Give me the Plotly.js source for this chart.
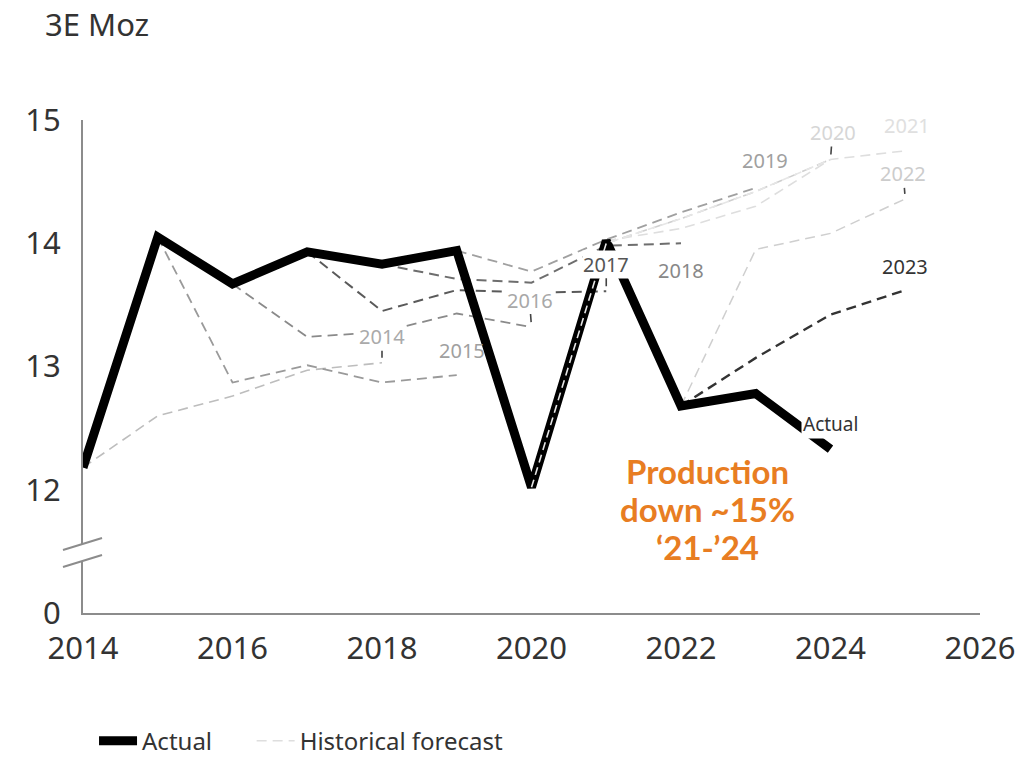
<!DOCTYPE html>
<html>
<head>
<meta charset="utf-8">
<script src="https://cdn.plot.ly/plotly-3.0.1.min.js"></script>
<style>
  html, body { margin: 0; padding: 0; background: #fff; }
  #chart { width: 1022px; height: 761px; }
</style>
</head>
<body>
<div id="chart"></div>
<script>
// Actual production, 3E Moz
var actualYears = [2014, 2015, 2016, 2017, 2018, 2019, 2020, 2021, 2022, 2023, 2024];
var actualValues = [12.18, 14.05, 13.67, 13.93, 13.83, 13.94, 12.02, 14.02, 12.68, 12.78, 12.33];

// Historical forecasts, one per vintage
var f2014Years = [2014, 2015, 2016, 2017, 2018];
var f2014Values = [12.18, 12.6, 12.76, 12.97, 13.03];
var f2015Years = [2015, 2016, 2017, 2018, 2019];
var f2015Values = [14.05, 12.87, 13.01, 12.87, 12.93];
var f2016Years = [2016, 2017, 2018, 2019, 2020];
var f2016Values = [13.67, 13.24, 13.28, 13.43, 13.32];
var f2017Years = [2017, 2018, 2019, 2020, 2021];
var f2017Values = [13.93, 13.45, 13.62, 13.6, 13.61];
var f2018Years = [2018, 2019, 2020, 2021, 2022];
var f2018Values = [13.83, 13.71, 13.68, 13.98, 14.0];
var f2019Years = [2019, 2020, 2021, 2022, 2023];
var f2019Values = [13.94, 13.77, 14.03, 14.25, 14.45];
var f2020Years = [2020, 2021, 2022, 2023, 2024];
var f2020Values = [12.02, 14.0, 14.2, 14.42, 14.68];
var f2021Years = [2021, 2022, 2023, 2024, 2025];
var f2021Values = [14.02, 14.12, 14.3, 14.68, 14.75];
var f2022Years = [2022, 2023, 2024, 2025];
var f2022Values = [12.68, 13.95, 14.08, 14.36];
var f2023Years = [2022, 2023, 2024, 2025];
var f2023Values = [12.68, 13.07, 13.42, 13.62];

var vintages = ['2014', '2015', '2016', '2017', '2018', '2019', '2020', '2021', '2022', '2023'];
var forecastYears = [f2014Years, f2015Years, f2016Years, f2017Years, f2018Years,
                     f2019Years, f2020Years, f2021Years, f2022Years, f2023Years];
var forecastValues = [f2014Values, f2015Values, f2016Values, f2017Values, f2018Values,
                      f2019Values, f2020Values, f2021Values, f2022Values, f2023Values];

var xTicks = [2014, 2016, 2018, 2020, 2022, 2024, 2026];
var yTicks = [11, 12, 13, 14, 15];
var yTickText = ['0', '12', '13', '14', '15'];

var calloutLines = ['Production', 'down ~15%', '\u201821-\u201924'];

// styling per vintage
var lineColors = ['#bdbdbd', '#9a9a9a', '#8a8a8a', '#5a5a5a', '#6e6e6e', '#a0a0a0', '#cfcfcf', '#dedede', '#cfcfcf', '#333333'];
var lineWidths = [1.6, 1.8, 1.8, 2, 2, 1.8, 1.6, 1.6, 1.5, 2.4];
var labelColors = ['#aaaaaa', '#a0a0a0', '#a8a8a8', '#555555', '#888888', '#a0a0a0', '#d6d6d6', '#e0e0e0', '#cccccc', '#333333'];
var labelAx = [0, 5, -2, 0, 0, 9, 2, 2, -2, 0];
var labelAy = [-26, -25, -27, -27, 27, -27, -27, -25, -25, -24];
var labelTick = [true, false, true, true, false, false, true, false, true, false];
var labelBg = [true, false, true, true, true, true, true, true, true, true];

var font = 'Noto Sans, DejaVu Sans, sans-serif';
var traces = [];

vintages.forEach(function(v, i) {
  traces.push({
    x: forecastYears[i],
    y: forecastValues[i],
    type: 'scatter',
    mode: 'lines',
    name: 'Historical forecast',
    legend: 'legend2',
    showlegend: v === '2021',
    hoverinfo: 'skip',
    line: { color: lineColors[i], width: lineWidths[i], dash: '10px,6px' }
  });
});

traces.push({
  x: actualYears,
  y: actualValues,
  type: 'scatter',
  mode: 'lines',
  name: 'Actual',
  legend: 'legend',
  line: { color: '#000000', width: 9 }
});

// 2020 forecast sits on top of the actual line (shows as dashes inside it)
var idx2020 = vintages.indexOf('2020');
traces.push({
  x: forecastYears[idx2020],
  y: forecastValues[idx2020],
  type: 'scatter',
  mode: 'lines',
  showlegend: false,
  hoverinfo: 'skip',
  line: { color: '#e6e6e6', width: 1.6, dash: '8px,5px' }
});

var annotations = vintages.map(function(v, i) {
  var xs = forecastYears[i], ys = forecastValues[i];
  return {
    x: xs[xs.length - 1],
    y: ys[ys.length - 1],
    text: v,
    showarrow: true,
    arrowhead: 0,
    arrowwidth: 1.6,
    arrowcolor: labelTick[i] ? '#444444' : 'rgba(0,0,0,0)',
    standoff: 5,
    ax: labelAx[i],
    ay: labelAy[i],
    bgcolor: labelBg[i] ? '#ffffff' : 'rgba(0,0,0,0)',
    borderpad: 0,
    font: { family: font, size: 20, color: labelColors[i] }
  };
});

annotations.push({
  x: actualYears[actualYears.length - 1],
  y: actualValues[actualValues.length - 1],
  text: 'Actual',
  showarrow: false,
  yshift: 25,
  bgcolor: '#ffffff',
  borderpad: 1,
  font: { family: font, size: 19, color: '#333333' }
});

// orange call-out, one line per annotation for tighter spacing
calloutLines.forEach(function(t, i) {
  annotations.push({
    x: 2022.35,
    y: 11.84,
    yshift: 38 - i * 38,
    text: t,
    showarrow: false,
    font: { family: 'Lato, Open Sans, sans-serif', size: 33, color: '#E87D22', weight: 'bold' }
  });
});

// axis break marks
var shapes = [
  { type: 'rect', xref: 'paper', yref: 'y', x0: -0.008, x1: 0.008, y0: 11.42, y1: 11.56,
    fillcolor: '#ffffff', line: { width: 0 }, layer: 'above' },
  { type: 'line', xref: 'paper', yref: 'y', x0: -0.0223, x1: 0.0212, y0: 11.511, y1: 11.609,
    line: { color: '#8c8c8c', width: 2 }, layer: 'above' },
  { type: 'line', xref: 'paper', yref: 'y', x0: -0.0223, x1: 0.0212, y0: 11.373, y1: 11.471,
    line: { color: '#8c8c8c', width: 2 }, layer: 'above' }
];

var legendFont = { family: font, size: 24, color: '#333333' };

var layout = {
  width: 1022,
  height: 761,
  margin: { l: 83, r: 42, t: 120, b: 148, autoexpand: false },
  paper_bgcolor: '#ffffff',
  plot_bgcolor: '#ffffff',
  font: { family: font, color: '#333333' },
  title: {
    text: '3E Moz',
    x: 45 / 1022,
    xanchor: 'left',
    y: 1 - 25 / 761,
    yanchor: 'middle',
    font: { family: font, size: 31, color: '#333333' }
  },
  xaxis: {
    range: [2014, 2026],
    tickvals: xTicks,
    showgrid: false,
    zeroline: false,
    showline: true,
    linecolor: '#8c8c8c',
    linewidth: 2,
    ticks: '',
    ticklabelstandoff: 7,
    tickfont: { family: font, size: 31, color: '#333333' }
  },
  yaxis: {
    range: [11, 15],
    tickvals: yTicks,
    ticktext: yTickText,
    showgrid: false,
    zeroline: false,
    showline: true,
    linecolor: '#8c8c8c',
    linewidth: 2,
    ticks: '',
    ticklabelstandoff: 14,
    tickfont: { family: font, size: 31, color: '#333333' }
  },
  showlegend: true,
  legend: {
    orientation: 'h',
    x: 0.0123,
    xanchor: 'left',
    y: -0.26,
    yanchor: 'middle',
    itemwidth: 38,
    font: legendFont
  },
  legend2: {
    orientation: 'h',
    x: 0.188,
    xanchor: 'left',
    y: -0.26,
    yanchor: 'middle',
    itemwidth: 38,
    font: legendFont
  },
  annotations: annotations,
  shapes: shapes
};

Plotly.newPlot('chart', traces, layout, { displayModeBar: false, responsive: false });
</script>
</body>
</html>
